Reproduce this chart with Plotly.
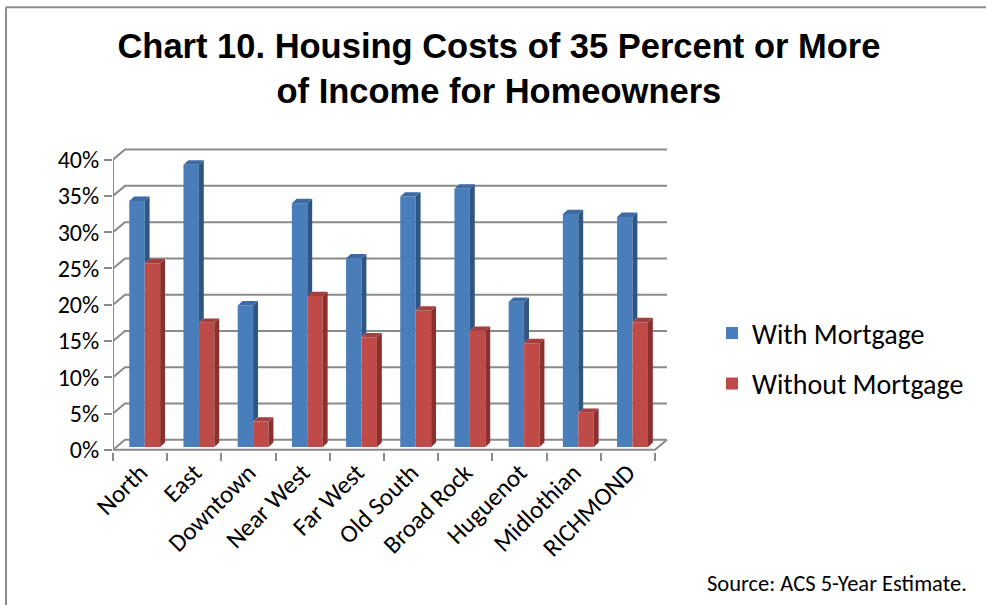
import plotly.graph_objects as go

# ---- data -------------------------------------------------------------
areas = ["North", "East", "Downtown", "Near West", "Far West",
         "Old South", "Broad Rock", "Huguenot", "Midlothian", "RICHMOND"]
with_mortgage = [33.9, 38.9, 19.5, 33.6, 26.0, 34.5, 35.6, 20.0, 32.1, 31.7]
without_mortgage = [25.3, 17.1, 3.5, 20.8, 15.1, 18.8, 16.0, 14.3, 4.7, 17.2]
pct_ticks = [0, 5, 10, 15, 20, 25, 30, 35, 40]
pct_labels = [f"{v}%" for v in pct_ticks]

# ---- pseudo-3D geometry (axis units) ----------------------------------
WALL_DX, WALL_DY = 0.221, 1.38      # depth of floor / back wall
BAR_W = 0.285                        # column width
OFF_WITH, OFF_WITHOUT = -0.20, 0.085 # left edge of each column from category centre
BAR_BASE = 0.4                       # columns stand a little into the floor
FACE_DX, FACE_DY = 0.09, 0.6         # column depth

BLUE, BLUE_SIDE, BLUE_TOP = "#4a7ebb", "#2f5583", "#3d6aa3"
RED, RED_SIDE, RED_TOP = "#be4b48", "#8a302e", "#a33f3c"
GRID = "#8a8a8a"

idx = list(range(len(areas)))
x_lo, x_hi = -0.5, len(areas) - 0.5

PLOT_L, PLOT_R, PLOT_T, PLOT_B = 113, 670, 147.7, 451.7
W, H = 986, 605


def px_x(p):
    return (p - PLOT_L) / (PLOT_R - PLOT_L)


def px_y(p):
    return (PLOT_B - p) / (PLOT_B - PLOT_T)


fig = go.Figure()

# front faces of the columns
fig.add_trace(go.Bar(x=idx, y=with_mortgage, base=BAR_BASE, width=BAR_W,
                     offset=OFF_WITH, name="With Mortgage",
                     marker=dict(color=BLUE, line=dict(width=0)),
                     legendgroup="a", hoverinfo="skip"))
fig.add_trace(go.Bar(x=idx, y=without_mortgage, base=BAR_BASE, width=BAR_W,
                     offset=OFF_WITHOUT, name="Without Mortgage",
                     marker=dict(color=RED, line=dict(width=0)),
                     legendgroup="b", hoverinfo="skip"))


def faces(values, offset, clip=None):
    """Side and top faces of each column, built from the column values."""
    sx, sy, tx, ty = [], [], [], []
    for i, v in enumerate(values):
        x0 = i + offset
        x1 = x0 + BAR_W
        top = BAR_BASE + v
        bot = BAR_BASE if clip is None else BAR_BASE + clip[i]
        sx += [x1, x1 + FACE_DX, x1 + FACE_DX, x1, x1, None]
        sy += [bot, bot + FACE_DY, top + FACE_DY, top, bot, None]
        tx += [x0, x0 + FACE_DX, x1 + FACE_DX, x1, x0, None]
        ty += [top, top + FACE_DY, top + FACE_DY, top, top, None]
    return sx, sy, tx, ty


for vals, off, clip, side_c, top_c in [
    (with_mortgage, OFF_WITH, without_mortgage, BLUE_SIDE, BLUE_TOP),
    (without_mortgage, OFF_WITHOUT, None, RED_SIDE, RED_TOP),
]:
    sx, sy, tx, ty = faces(vals, off, clip)
    fig.add_trace(go.Scatter(x=sx, y=sy, mode="lines", fill="toself",
                             fillcolor=side_c, line=dict(width=0),
                             showlegend=False, hoverinfo="skip"))
    fig.add_trace(go.Scatter(x=tx, y=ty, mode="lines", fill="toself",
                             fillcolor=top_c, line=dict(width=0),
                             showlegend=False, hoverinfo="skip"))

# back wall gridlines with their diagonals to the front axis, floor and axis
shapes = []
for v in pct_ticks:
    shapes.append(dict(type="path", xref="x", yref="y", layer="below",
                       path=f"M {x_lo},{v} L {x_lo + WALL_DX},{v + WALL_DY} L {x_hi + WALL_DX},{v + WALL_DY}",
                       line=dict(color=GRID, width=2)))
shapes.append(dict(type="path", xref="x", yref="y", layer="below",
                   path=f"M {x_lo},{pct_ticks[-1]} L {x_lo},0 L {x_hi},0 L {x_hi + WALL_DX},{WALL_DY}",
                   line=dict(color=GRID, width=2)))
# chart frame (top and left edges)
shapes.append(dict(type="line", xref="paper", yref="paper",
                   x0=px_x(6), x1=px_x(W + 5), y0=px_y(7), y1=px_y(7),
                   line=dict(color="#8c8c8c", width=2)))
shapes.append(dict(type="line", xref="paper", yref="paper",
                   x0=px_x(6), x1=px_x(6), y0=px_y(7), y1=px_y(H + 5),
                   line=dict(color="#8c8c8c", width=2)))

BODY_FONT = "Carlito, Lato, 'Open Sans', sans-serif"

fig.update_layout(
    width=W, height=H,
    margin=dict(l=PLOT_L, r=W - PLOT_R, t=PLOT_T, b=H - PLOT_B),
    paper_bgcolor="white", plot_bgcolor="rgba(0,0,0,0)",
    barmode="overlay",
    shapes=shapes,
    title=dict(text="Chart 10. Housing Costs of 35 Percent or More<br>of Income for Homeowners",
               x=0.506, xanchor="center", y=1 - 58 / H, yanchor="top",
               xref="container", yref="container",
               font=dict(family="'Liberation Sans', Arial, sans-serif",
                         size=34.5, color="black", weight="bold")),
    xaxis=dict(range=[x_lo, x_hi + 0.277], tickvals=idx, ticktext=areas,
               tickangle=-45, ticks="", showgrid=False, zeroline=False,
               showline=False, tickfont=dict(family=BODY_FONT, size=25, color="black"),
               minor=dict(tickvals=[i - 0.5 for i in range(len(areas) + 1)],
                          ticks="outside", ticklen=8, tickwidth=2,
                          tickcolor=GRID, showgrid=False)),
    yaxis=dict(range=[-0.3, 41.6], tickvals=pct_ticks, ticktext=pct_labels,
               ticks="outside", ticklen=8, tickwidth=2, tickcolor=GRID,
               showgrid=False, zeroline=False, showline=False,
               tickfont=dict(family=BODY_FONT, size=24, color="black")),
    legend=dict(x=px_x(712), y=px_y(358), xanchor="left", yanchor="middle",
                font=dict(family=BODY_FONT, size=28, color="black"),
                tracegroupgap=11, bgcolor="rgba(0,0,0,0)"),
    annotations=[dict(text="Source: ACS 5-Year Estimate.", xref="paper", yref="paper",
                      x=px_x(969), y=px_y(583), xanchor="right", yanchor="middle",
                      showarrow=False,
                      font=dict(family=BODY_FONT, size=22.5, color="black"))],
)

fig.write_html("out.html")
